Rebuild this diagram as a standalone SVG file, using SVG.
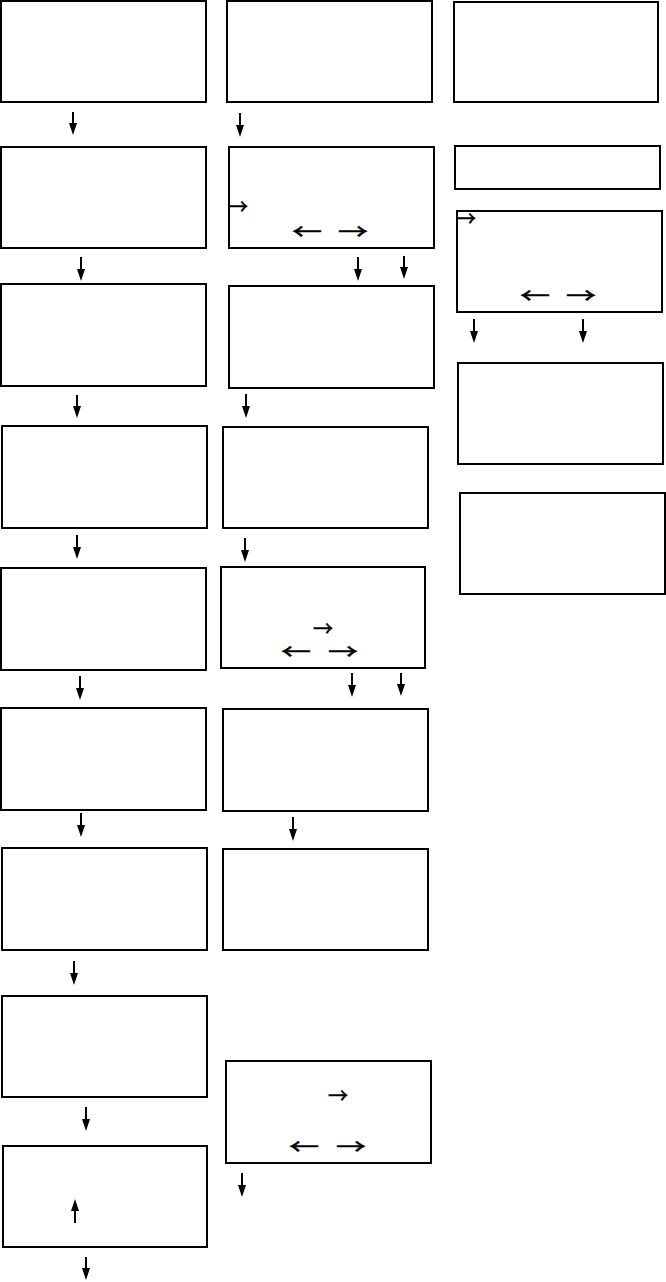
<svg xmlns="http://www.w3.org/2000/svg" width="666" height="1282" viewBox="0 0 666 1282">
<style>
.box{fill:#fff;stroke:#000;stroke-width:2}
.ln{stroke:#000;stroke-width:2;fill:none;marker-end:url(#ah)}
.ar{font-family:"Noto Sans CJK SC","Noto Sans",sans-serif;font-size:21px;fill:#000;stroke:#000;stroke-width:0.5}
</style>
<defs>
<marker id="ah" viewBox="0 0 12 8" refX="4" refY="4" markerWidth="12" markerHeight="8" markerUnits="userSpaceOnUse" orient="auto">
<path d="M0,0 L12,4 L0,8 z" fill="#000"/>
</marker>
</defs>
<rect width="666" height="1282" fill="#fff"/>
<g id="c1n1"><rect class="box" x="1" y="1" width="205" height="101"/></g>
<g id="c1n2"><rect class="box" x="1" y="147" width="205" height="101"/></g>
<g id="c1n3"><rect class="box" x="1" y="284" width="205" height="102"/></g>
<g id="c1n4"><rect class="box" x="2" y="426" width="205" height="102"/></g>
<g id="c1n5"><rect class="box" x="1" y="568" width="205" height="102"/></g>
<g id="c1n6"><rect class="box" x="1" y="708" width="205" height="102"/></g>
<g id="c1n7"><rect class="box" x="2" y="848" width="205" height="102"/></g>
<g id="c1n8"><rect class="box" x="2" y="996" width="205" height="101"/></g>
<g id="c1n9"><rect class="box" x="3" y="1146" width="204" height="101"/></g>
<g id="c2n1"><rect class="box" x="227" y="1" width="205" height="101"/></g>
<g id="c2n2"><rect class="box" x="229" y="147" width="205" height="101"/>
<text class="ar" x="228" y="214" textLength="20" lengthAdjust="spacingAndGlyphs">→</text>
<text class="ar" x="292" y="239" textLength="30" lengthAdjust="spacingAndGlyphs">←</text>
<text class="ar" x="338" y="239" textLength="30" lengthAdjust="spacingAndGlyphs">→</text></g>
<g id="c2n3"><rect class="box" x="229" y="286" width="205" height="102"/></g>
<g id="c2n4"><rect class="box" x="223" y="427" width="205" height="101"/></g>
<g id="c2n5"><rect class="box" x="221" y="567" width="204" height="101"/>
<text class="ar" x="313" y="636" textLength="20" lengthAdjust="spacingAndGlyphs">→</text>
<text class="ar" x="281" y="659" textLength="30" lengthAdjust="spacingAndGlyphs">←</text>
<text class="ar" x="328" y="659" textLength="30" lengthAdjust="spacingAndGlyphs">→</text></g>
<g id="c2n6"><rect class="box" x="223" y="709" width="205" height="102"/></g>
<g id="c2n7"><rect class="box" x="223" y="849" width="205" height="101"/></g>
<g id="c2n8"><rect class="box" x="226" y="1061" width="205" height="102"/>
<text class="ar" x="328" y="1103" textLength="20" lengthAdjust="spacingAndGlyphs">→</text>
<text class="ar" x="289" y="1154" textLength="30" lengthAdjust="spacingAndGlyphs">←</text>
<text class="ar" x="336" y="1154" textLength="30" lengthAdjust="spacingAndGlyphs">→</text></g>
<g id="c3n1"><rect class="box" x="454" y="2" width="204" height="100"/></g>
<g id="c3n2"><rect class="box" x="455" y="146" width="205" height="43"/></g>
<g id="c3n3"><rect class="box" x="457" y="211" width="205" height="101"/>
<text class="ar" x="456" y="226" textLength="20" lengthAdjust="spacingAndGlyphs">→</text>
<text class="ar" x="520" y="303" textLength="30" lengthAdjust="spacingAndGlyphs">←</text>
<text class="ar" x="566" y="303" textLength="30" lengthAdjust="spacingAndGlyphs">→</text></g>
<g id="c3n4"><rect class="box" x="458" y="363" width="205" height="101"/></g>
<g id="c3n5"><rect class="box" x="460" y="493" width="205" height="101"/></g>
<g id="connectors">
<line class="ln" x1="73" y1="112" x2="73" y2="127"/>
<line class="ln" x1="240" y1="113" x2="240" y2="129"/>
<line class="ln" x1="81" y1="257" x2="81" y2="273"/>
<line class="ln" x1="358" y1="257" x2="358" y2="273"/>
<line class="ln" x1="404" y1="256" x2="404" y2="271"/>
<line class="ln" x1="77" y1="395" x2="77" y2="410"/>
<line class="ln" x1="246" y1="394" x2="246" y2="410"/>
<line class="ln" x1="474" y1="319" x2="474" y2="335"/>
<line class="ln" x1="583" y1="319" x2="583" y2="335"/>
<line class="ln" x1="77" y1="535" x2="77" y2="551"/>
<line class="ln" x1="245" y1="538" x2="245" y2="554"/>
<line class="ln" x1="352" y1="673" x2="352" y2="689"/>
<line class="ln" x1="401" y1="673" x2="401" y2="688"/>
<line class="ln" x1="80" y1="676" x2="80" y2="692"/>
<line class="ln" x1="81" y1="813" x2="81" y2="829"/>
<line class="ln" x1="293" y1="817" x2="293" y2="833"/>
<line class="ln" x1="74" y1="961" x2="74" y2="977"/>
<line class="ln" x1="86" y1="1107" x2="86" y2="1123"/>
<line class="ln" x1="242" y1="1173" x2="242" y2="1189"/>
<line class="ln" x1="86" y1="1257" x2="86" y2="1272"/>
<line class="ln" x1="75" y1="1223" x2="75" y2="1207"/>
</g>
</svg>
